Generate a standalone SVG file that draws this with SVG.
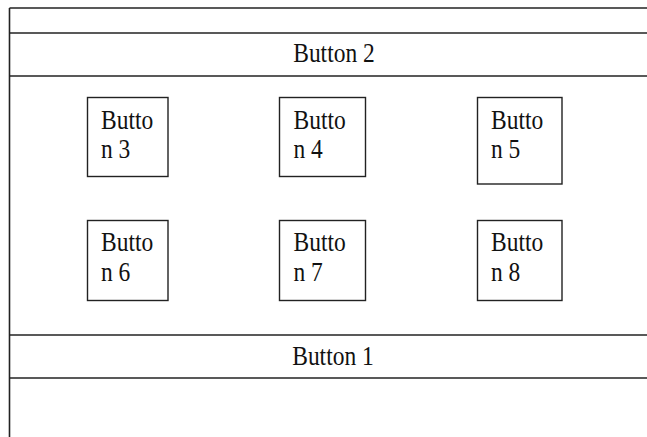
<svg xmlns="http://www.w3.org/2000/svg" width="647" height="437" viewBox="0 0 647 437">
  <style>
    .rule { stroke: #222; stroke-width: 1.6; fill: none; }
    .box { stroke: #222; stroke-width: 1.4; fill: #fff; }
    .lbl { font-family: "Liberation Serif", "Times New Roman", serif; font-size: 23.5px; fill: #111; }
    .mid { text-anchor: middle; }
  </style>
  <rect width="647" height="437" fill="#fff"/>

  <!-- frame rules -->
  <g id="frame">
    <line class="rule" x1="9.5" y1="8" x2="9.5" y2="437"/>
    <line class="rule" x1="9.5" y1="8" x2="647" y2="8"/>
  </g>

  <!-- top bar -->
  <g id="button2">
    <line class="rule" x1="9.5" y1="33" x2="647" y2="33"/>
    <line class="rule" x1="9.5" y1="76" x2="647" y2="76"/>
    <text class="lbl mid" transform="translate(334,62) scale(1,1.15)">Button 2</text>
  </g>

  <!-- bottom bar -->
  <g id="button1">
    <line class="rule" x1="9.5" y1="335" x2="647" y2="335"/>
    <line class="rule" x1="9.5" y1="378" x2="647" y2="378"/>
    <text class="lbl mid" transform="translate(333,365) scale(1,1.15)">Button 1</text>
  </g>

  <!-- grid of small buttons -->
  <g id="button3">
    <rect class="box" x="87.5" y="97.5" width="80.5" height="79"/>
    <text class="lbl" transform="translate(101,128.5) scale(1,1.15)">Butto</text>
    <text class="lbl" transform="translate(101,157.5) scale(1,1.15)">n 3</text>
  </g>
  <g id="button4">
    <rect class="box" x="279.5" y="97.5" width="86" height="79"/>
    <text class="lbl" transform="translate(293.5,128.5) scale(1,1.15)">Butto</text>
    <text class="lbl" transform="translate(293.5,157.5) scale(1,1.15)">n 4</text>
  </g>
  <g id="button5">
    <rect class="box" x="477.5" y="97.5" width="84.5" height="86.5"/>
    <text class="lbl" transform="translate(491,128.5) scale(1,1.15)">Butto</text>
    <text class="lbl" transform="translate(491,157.5) scale(1,1.15)">n 5</text>
  </g>
  <g id="button6">
    <rect class="box" x="87.5" y="220.5" width="80.5" height="80"/>
    <text class="lbl" transform="translate(101,251) scale(1,1.15)">Butto</text>
    <text class="lbl" transform="translate(101,280.5) scale(1,1.15)">n 6</text>
  </g>
  <g id="button7">
    <rect class="box" x="279.5" y="220.5" width="86" height="80"/>
    <text class="lbl" transform="translate(293.5,251) scale(1,1.15)">Butto</text>
    <text class="lbl" transform="translate(293.5,280.5) scale(1,1.15)">n 7</text>
  </g>
  <g id="button8">
    <rect class="box" x="477.5" y="220.5" width="84.5" height="80"/>
    <text class="lbl" transform="translate(491,251) scale(1,1.15)">Butto</text>
    <text class="lbl" transform="translate(491,280.5) scale(1,1.15)">n 8</text>
  </g>

  <g id="connectors"/>
</svg>
